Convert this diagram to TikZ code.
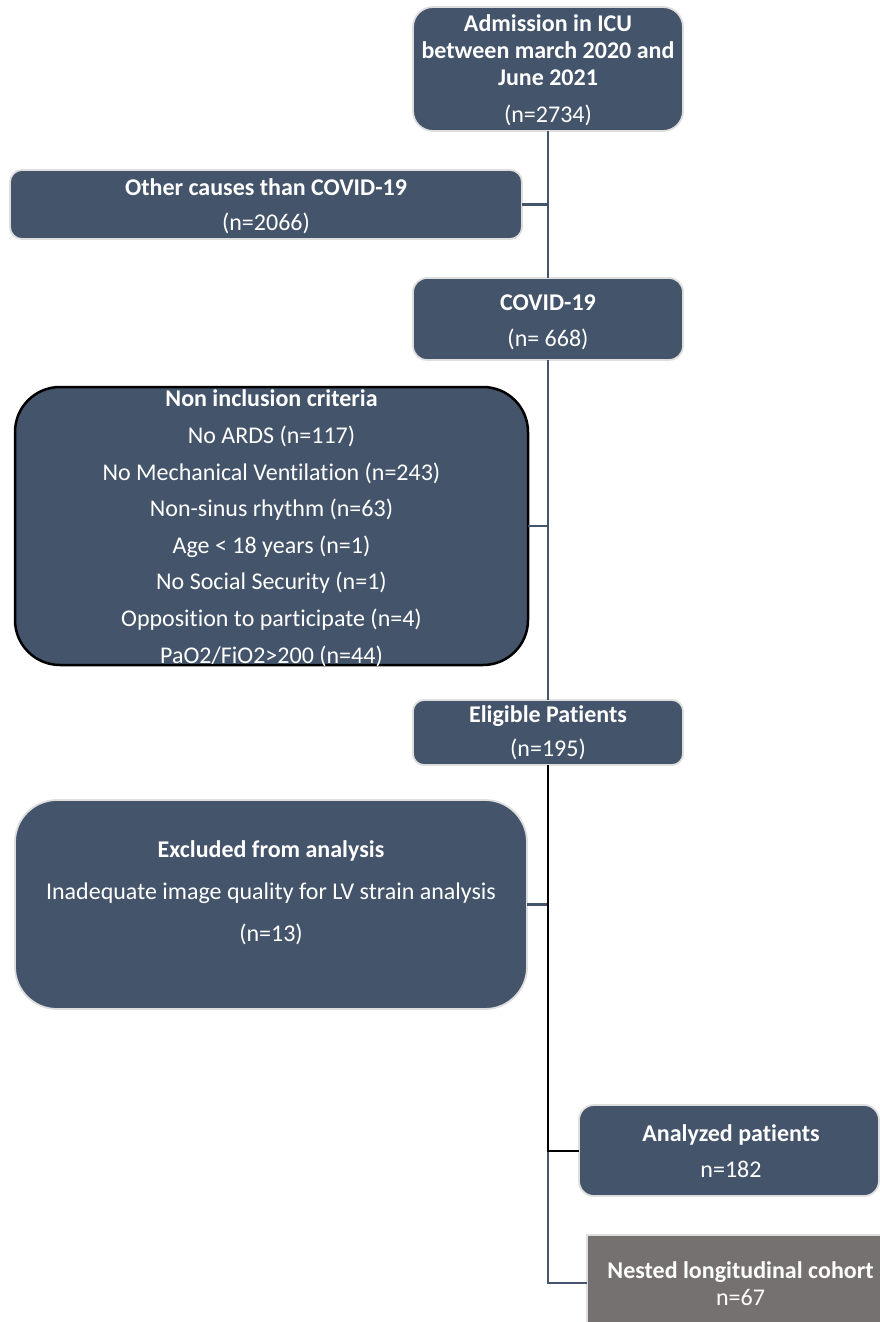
\documentclass[tikz,border=0pt]{standalone}
\usepackage{fontspec}
\setmainfont{Carlito}[Ligatures=NoCommon]
\definecolor{boxfill}{HTML}{44546A}
\definecolor{boxedge}{HTML}{DEDEDE}
\definecolor{greyfill}{HTML}{767171}
\tikzset{
  flowbox/.style={draw=boxedge, line width=1.8pt, fill=boxfill, inner sep=0pt, outer sep=0pt, anchor=north west},
  critbox/.style={flowbox, draw=black, line width=2.5pt},
  greybox/.style={flowbox, fill=greyfill},
  ln/.style={text=white, anchor=base, inner sep=0pt, font=\fontsize{24}{29}\selectfont},
  lnb/.style={ln, font=\bfseries\fontsize{24}{29}\selectfont},
  conn/.style={draw=boxfill, line width=2.6pt},
  connk/.style={draw=black, line width=2pt}
}
\begin{document}
\begin{tikzpicture}[x=1pt,y=-1pt]
\useasboundingbox (0,0) rectangle (879,1322);
% boxes
\node[flowbox, rounded corners=20pt, minimum width=270pt, minimum height=124pt] (b1) at (413,7) {};
\node[flowbox, rounded corners=12pt, minimum width=512pt, minimum height=69pt] (b2) at (10,170) {};
\node[flowbox, rounded corners=14pt, minimum width=270pt, minimum height=82pt] (b3) at (413,278) {};
\node[critbox, rounded corners=45pt, minimum width=513pt, minimum height=278pt] (b4) at (15,387) {};
\node[flowbox, rounded corners=11pt, minimum width=270pt, minimum height=65pt] (b5) at (413,700) {};
\node[flowbox, rounded corners=42pt, minimum width=512pt, minimum height=209pt] (b6) at (15,800) {};
\node[flowbox, rounded corners=15pt, minimum width=300pt, minimum height=91pt] (b7) at (579,1105) {};
\node[greybox, minimum width=307pt, minimum height=96pt] (b8) at (587,1235) {};
% texts
\node[lnb] (t1a) at (548,32) {Admission in ICU};
\node[lnb] (t1b) at (548,58.5) {between march 2020 and};
\node[lnb] (t1c) at (548,85) {June 2021};
\node[ln] (t1d) at (548,122.5) {(n=2734)};
\node[lnb] (t2a) at (266,195) {Other causes than COVID-19};
\node[ln] (t2b) at (266,230) {(n=2066)};
\node[lnb] (t3a) at (548,310) {COVID-19};
\node[ln] (t3b) at (548,346.5) {(n= 668)};
\node[lnb] (t4a) at (271.5,406.5) {Non inclusion criteria};
\node[ln] (t4b) at (271.5,443) {No ARDS (n=117)};
\node[ln] (t4c) at (271.5,480) {No Mechanical Ventilation (n=243)};
\node[ln] (t4d) at (271.5,516.5) {Non-sinus rhythm (n=63)};
\node[ln] (t4e) at (271.5,553) {Age < 18 years (n=1)};
\node[ln] (t4f) at (271.5,589.5) {No Social Security (n=1)};
\node[ln] (t4g) at (271.5,626) {Opposition to participate (n=4)};
\node[ln] (t4h) at (271.5,663) {PaO2/FiO2>200 (n=44)};
\node[lnb] (t5a) at (548,722) {Eligible Patients};
\node[ln] (t5b) at (548,756.5) {(n=195)};
\node[lnb] (t6a) at (271,857) {Excluded from analysis};
\node[ln] (t6b) at (271,899) {Inadequate image quality for LV strain analysis};
\node[ln] (t6c) at (271,941) {(n=13)};
\node[lnb] (t7a) at (731,1141) {Analyzed patients};
\node[ln] (t7b) at (731,1177) {n=182};
\node[lnb] (t8a) at (740.5,1278) {Nested longitudinal cohort};
\node[ln] (t8b) at (740.5,1305) {n=67};
% connectors
\draw[conn] (b1.south) -- (b3.north);
\draw[conn] (b2.east) -- (b2.east -| b1.south);
\draw[conn] (b3.south) -- (b5.north);
\draw[conn] (b4.east) -- (b4.east -| b3.south);
\draw[conn] (b5.south) -- (b5.south |- b8.west) -- (b8.west);
\draw[conn] (b6.east) -- (b6.east -| b5.south);
\draw[connk] (b5.south) -- (b5.south |- b7.west) -- (b7.west);
\end{tikzpicture}
\end{document}
